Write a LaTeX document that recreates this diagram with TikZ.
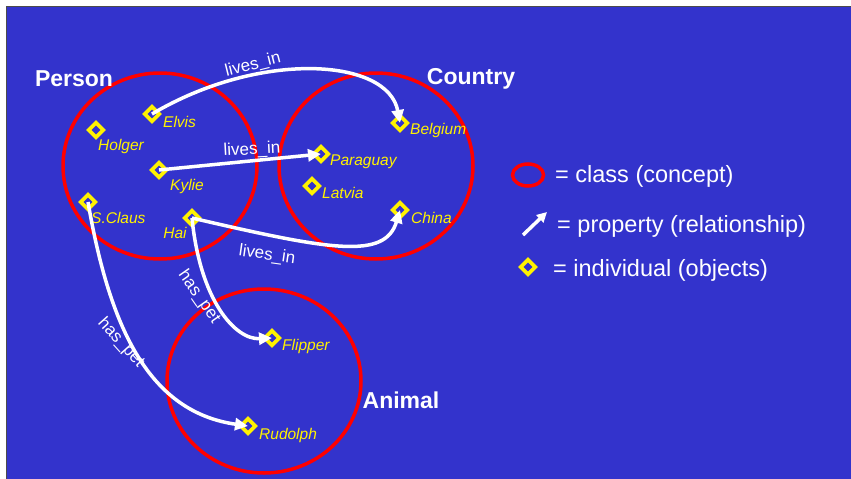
\documentclass[tikz,border=0pt]{standalone}
\usepackage{fontspec}
\setmainfont{Liberation Sans}
\usetikzlibrary{arrows.meta, shapes.geometric, positioning}
\definecolor{slideblue}{HTML}{3333CC}
\tikzset{
	classring/.style={ellipse, draw=red, line width=3.5pt, minimum width=194pt, minimum height=186pt, inner sep=0pt},
	classname/.style={text=white, font=\fontsize{23}{26}\selectfont\bfseries},
	indiv/.style={diamond, draw=yellow, line width=3.6pt, minimum size=16pt, inner sep=0pt},
	indivname/.style={text=yellow, anchor=west, inner sep=0pt, font=\fontsize{15.5}{18}\selectfont\itshape},
	prop/.style={draw=white, line width=3.5pt, -{Triangle[length=13pt,width=12pt]}},
	propname/.style={text=white, inner sep=0pt, font=\fontsize{17}{20}\selectfont},
	legendtext/.style={text=white, anchor=west, inner sep=0pt, font=\fontsize{23.5}{26}\selectfont}
}
\begin{document}
\begin{tikzpicture}[x=1pt, y=-1pt]
		\useasboundingbox (0,0) rectangle (851,479);
		\fill[white] (0,0) rectangle (851,479);
		\fill[slideblue] (6,6) rectangle (851,479);
		\draw[black!70, line width=1pt] (6,479) -- (6,6) -- (851,6);

		\node[classring]	(person)	at (160,166)	{};
		\node[classring]	(country)	at (376,166)	{};
		\node[classring, minimum height=184pt]	(animal)	at (264,381)	{};
		\node[classname]	(personL)	at (74,79)	{Person};
		\node[classname]	(countryL)	at (471,79)	{Country};
		\node[classname]	(animalL)	at (401,400)	{Animal};

		\node[indiv]	(elvis)		at (152,114)	{};
		\node[indiv]	(holger)	at (96,130)	{};
		\node[indiv]	(kylie)		at (159,170)	{};
		\node[indiv]	(sclaus)	at (88,202)	{};
		\node[indiv]	(hai)		at (192,218)	{};
		\node[indiv]	(belgium)	at (400,123)	{};
		\node[indiv]	(paraguay)	at (321,154)	{};
		\node[indiv]	(latvia)	at (312,186)	{};
		\node[indiv]	(china)		at (400,210)	{};
		\node[indiv]	(flipper)	at (272,338)	{};
		\node[indiv]	(rudolph)	at (248,426)	{};

		\node[indivname]	(elvisL)	at (163,122)	{Elvis};
		\node[indivname]	(holgerL)	at (98,146)	{Holger};
		\node[indivname]	(kylieL)	at (170,186)	{Kylie};
		\node[indivname]	(sclausL)	at (91,218)	{S.Claus};
		\node[indivname, anchor=center]	(haiL)	at (175,233)	{Hai};
		\node[indivname]	(belgiumL)	at (410,130)	{Belgium};
		\node[indivname]	(paraguayL)	at (330,162)	{Paraguay};
		\node[indivname]	(latviaL)	at (322,193)	{Latvia};
		\node[indivname]	(chinaL)	at (411,218)	{China};
		\node[indivname]	(flipperL)	at (282,346)	{Flipper};
		\node[indivname]	(rudolphL)	at (259,435)	{Rudolph};

		\draw[prop]	(elvis.center) .. controls (260,50) and (388,58) .. (belgium.center);
		\draw[prop]	(kylie.center) -- (paraguay.center);
		\draw[prop]	(hai.center) .. controls (330,250) and (385,260) .. (china.center);
		\draw[prop]	(hai.center) .. controls (200,300) and (235,340) .. (flipper.center);
		\draw[prop]	(sclaus.center) .. controls (110,330) and (150,412) .. (rudolph.center);

		\node[propname, rotate=14]	(livesA)	at (253,65)	{lives\_in};
		\node[propname, rotate=3]	(livesB)	at (252,150)	{lives\_in};
		\node[propname, rotate=-8]	(livesC)	at (267,255)	{lives\_in};
		\node[propname, rotate=-55]	(petA)	at (199,297)	{has\_pet};
		\node[propname, rotate=-48]	(petB)	at (121,343)	{has\_pet};

		\node[ellipse, draw=red, line width=3.5pt, minimum width=31pt, minimum height=22pt, inner sep=0pt]	(legclass)	at (528,175)	{};
		\coordinate	(legpropA)	at (523,235);
		\coordinate	(legpropB)	at (547,212);
		\draw[draw=white, line width=3.5pt, -{Triangle[length=10pt,width=10pt]}]	(legpropA) -- (legpropB);
		\node[indiv]	(legindiv)	at (528,267)	{};
		\node[legendtext]	(legclassL)	at (555,176)	{= class (concept)};
		\node[legendtext]	(legpropL)	at (557,226)	{= property (relationship)};
		\node[legendtext]	(legindivL)	at (553,270)	{= individual (objects)};
	\end{tikzpicture}
\end{document}
